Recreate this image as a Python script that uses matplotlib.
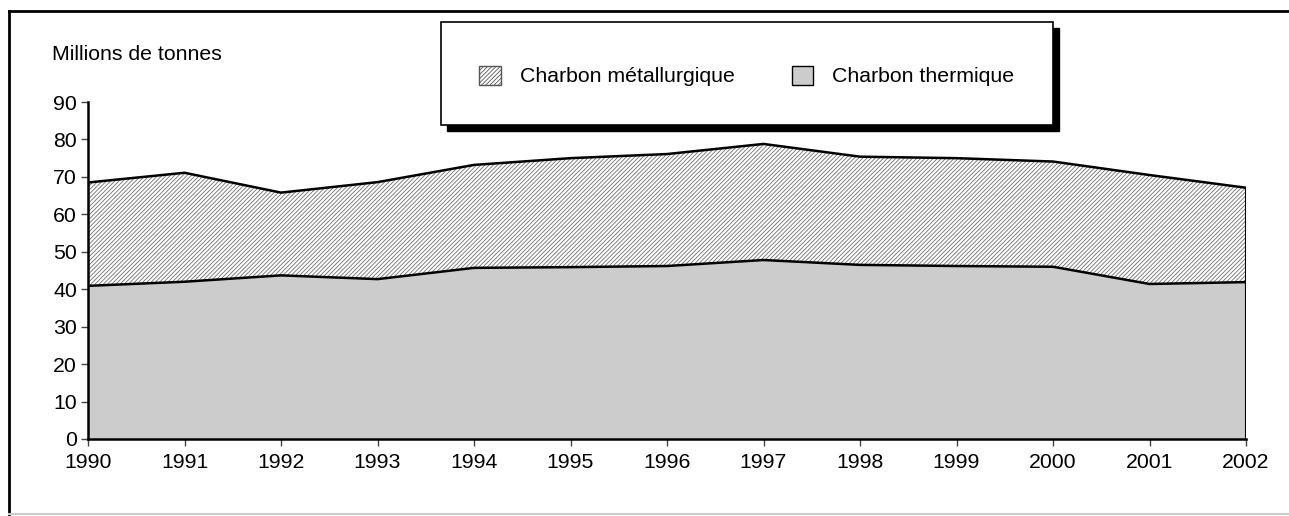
import numpy as np
import matplotlib.pyplot as plt
from matplotlib.patches import Patch, Rectangle
from matplotlib.lines import Line2D

plt.rcParams['font.family'] = ['Liberation Sans', 'DejaVu Sans']
plt.rcParams['hatch.linewidth'] = 0.6

# données (millions de tonnes)
annees = [1990, 1991, 1992, 1993, 1994, 1995, 1996, 1997, 1998, 1999, 2000, 2001, 2002]
thermique = [40.9, 42.0, 43.7, 42.7, 45.7, 45.9, 46.2, 47.8, 46.5, 46.2, 46.0, 41.4, 41.9]
metallurgique = [27.6, 29.1, 22.1, 25.9, 27.5, 29.1, 29.9, 31.0, 28.9, 28.8, 28.1, 29.1, 25.2]
yticks = list(range(0, 91, 10))

x = np.array(annees)
th = np.array(thermique)
tot = th + np.array(metallurgique)

fig = plt.figure(figsize=(12.89, 5.16), dpi=100)
ax = fig.add_axes([88 / 1289, 1 - 439 / 516, (1246 - 88) / 1289, (439 - 102) / 516])

ax.fill_between(x, 0, th, facecolor='#cccccc', edgecolor='none', lw=0)
ax.fill_between(x, th, tot, facecolor='white', edgecolor='#707070', hatch='////////', lw=0)
ax.plot(x, th, color='black', lw=1.8)
ax.plot(x, tot, color='black', lw=1.8)
ax.plot([x[-1], x[-1]], [0, tot[-1]], color='black', lw=1.5)

ax.set_xlim(annees[0], annees[-1])
ax.set_ylim(0, 90)
ax.set_xticks(annees)
ax.set_yticks(yticks)
ax.tick_params(labelsize=15.3, length=5, width=1, color='#444444', pad=3)
ax.tick_params(axis='x', pad=5)
for s in ['top', 'right']:
    ax.spines[s].set_visible(False)
for s in ['left', 'bottom']:
    ax.spines[s].set_linewidth(1.8)

fig.text(52 / 1289, 1 - 55 / 516, 'Millions de tonnes', fontsize=15.3, va='center', ha='left')

# cadre extérieur
fig.add_artist(Line2D([9 / 1289, 9 / 1289], [1 - 11 / 516, 1 - 514 / 516], color='black', lw=2))
fig.add_artist(Line2D([9 / 1289, 1.0], [1 - 11 / 516, 1 - 11 / 516], color='black', lw=2))
fig.add_artist(Line2D([9 / 1289, 1.0], [1 - 514 / 516, 1 - 514 / 516], color='#cccccc', lw=1.5))

# légende avec ombre
bx0, by0, bx1, by1 = 441, 22, 1053, 125
fig.add_artist(Rectangle(((bx0 + 6) / 1289, 1 - (by1 + 6) / 516), (bx1 - bx0) / 1289, (by1 - by0) / 516,
                         transform=fig.transFigure, facecolor='black', edgecolor='black'))
fig.add_artist(Rectangle((bx0 / 1289, 1 - by1 / 516), (bx1 - bx0) / 1289, (by1 - by0) / 516,
                         transform=fig.transFigure, facecolor='white', edgecolor='black', lw=1.2))
handles = [Patch(facecolor='white', edgecolor='#555555', hatch='////////', lw=1.0, label='Charbon métallurgique'),
           Patch(facecolor='#cccccc', edgecolor='black', lw=1.0, label='Charbon thermique')]
fig.legend(handles=handles, loc='center', bbox_to_anchor=((bx0 + bx1) / 2 / 1289, 1 - 76 / 516),
           ncol=2, frameon=False, fontsize=15.3, handlelength=1.0, handleheight=1.0,
           handletextpad=0.9, columnspacing=2.7)

fig.savefig('out.png', dpi=100)
